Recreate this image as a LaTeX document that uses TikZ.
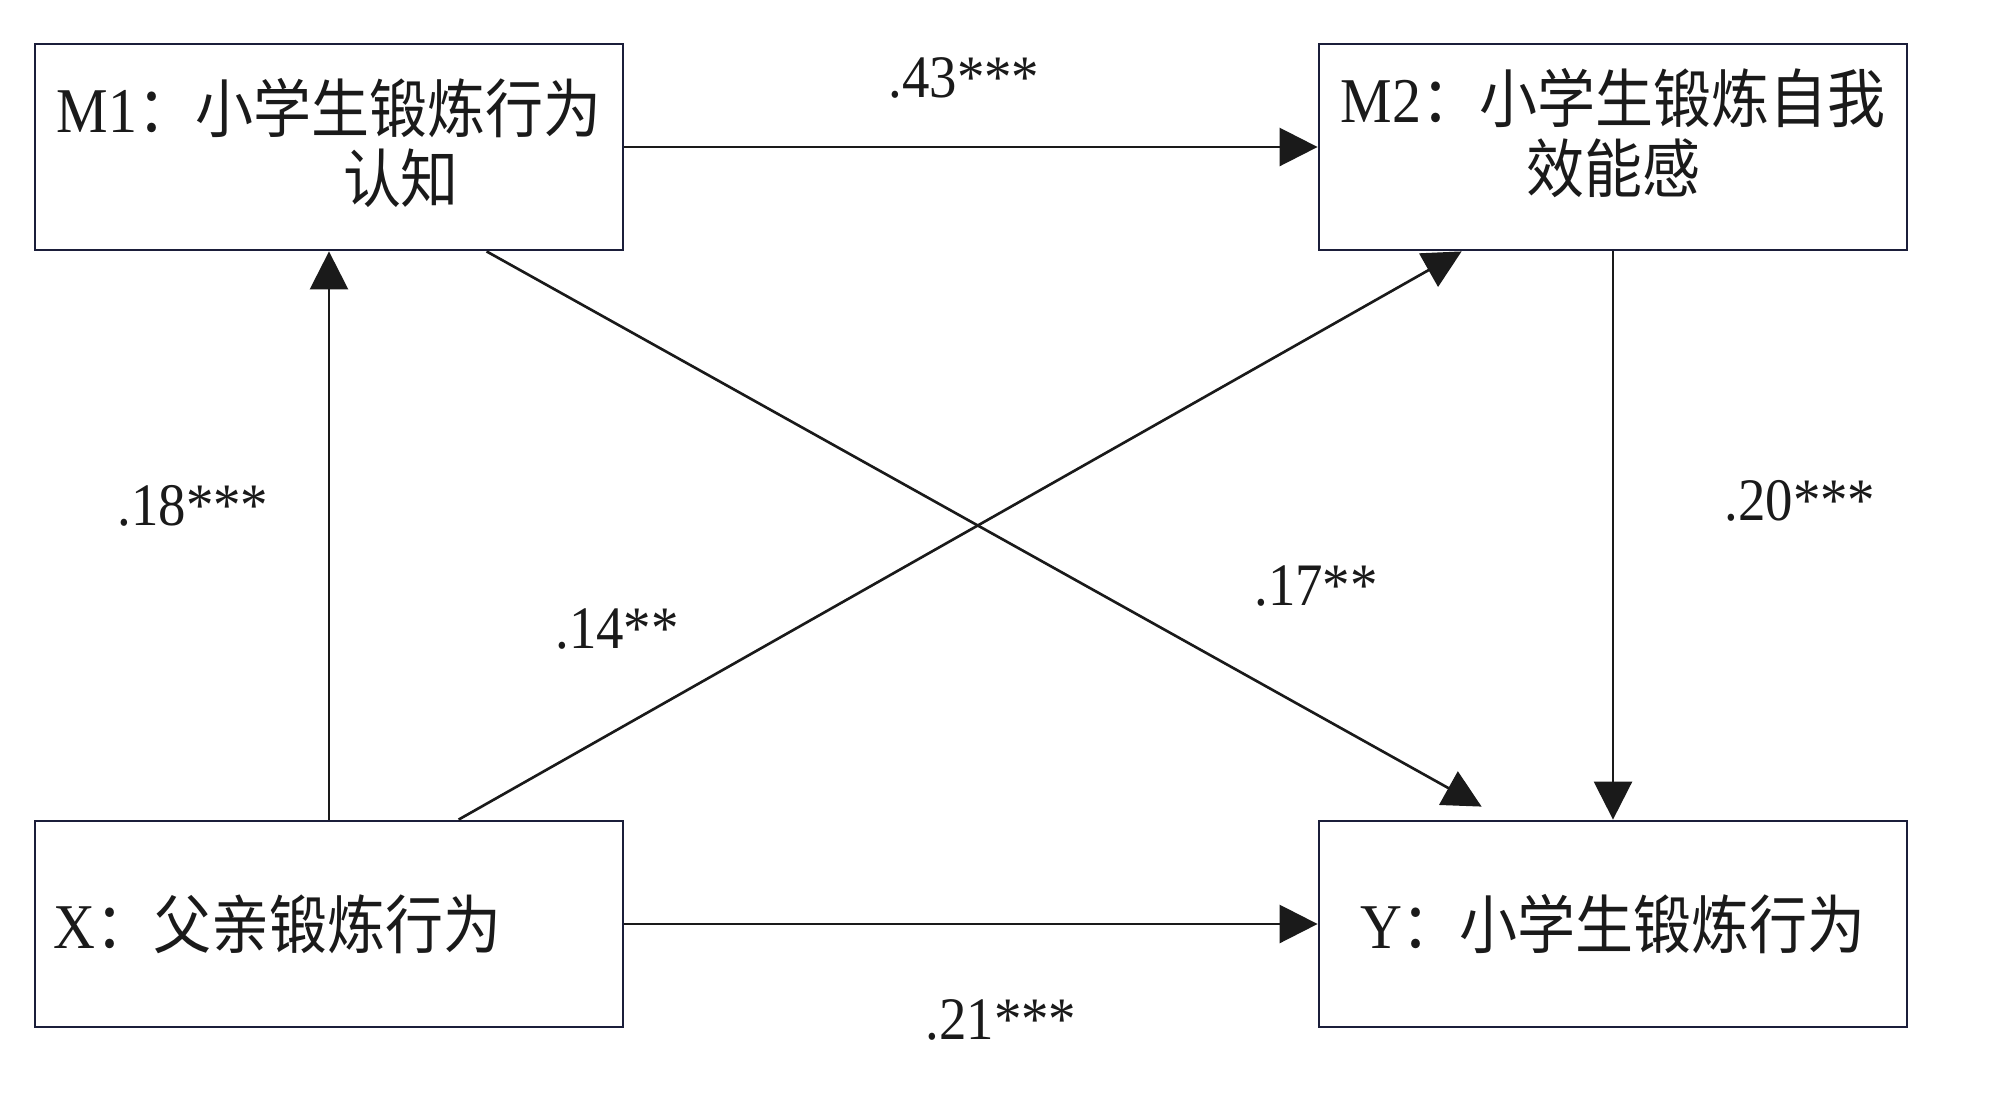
\documentclass[tikz,border=0pt]{standalone}
\usepackage{fontspec}
\usepackage{graphicx}
\setmainfont{Liberation Serif}
\newfontfamily\cjk{Noto Sans CJK SC}
\usetikzlibrary{arrows.meta}
\definecolor{boxline}{HTML}{1B1E3A}
\definecolor{ink}{HTML}{1A1A1A}
\newcommand\vst[1]{\scalebox{1}[1.1]{#1}}
\newcommand\upby[2]{\raisebox{#1}[\height][\depth]{#2}}
\begin{document}
\begin{tikzpicture}[
  box/.style={draw=boxline, line width=0.8pt, minimum width=5.88cm, minimum height=2.06cm,
              inner sep=0pt, text=ink, font=\fontsize{16.5}{20}\selectfont},
  conn/.style={draw=ink, line width=0.75pt, -{Triangle[length=3.8mm,width=3.8mm]}},
  coef/.style={font=\fontsize{15.6}{18}\selectfont, inner sep=0pt, text=ink}
]
\useasboundingbox (0,0) rectangle (20,-11.14);
\fill[white] (0,0) rectangle (20,-11.14);

\node[box, align=center] (M1) at (3.29,-1.47)
  {\upby{0.04cm}{\vst{M1\cjk：小学生锻炼行为}}\\\hspace*{1.44cm}\upby{0.04cm}{\vst{\cjk 认知}}};
\node[box, align=center] (M2) at (16.13,-1.47)
  {\upby{0.14cm}{\vst{M2\cjk：小学生锻炼自我}}\\\upby{0.14cm}{\vst{\cjk 效能感}}};
\node[box, text width=5.5cm, align=left] (X) at (3.29,-9.24)
  {\vst{X\cjk：父亲锻炼行为}};
\node[box, align=center] (Y) at (16.13,-9.24)
  {\vst{Y\cjk：小学生锻炼行为}};

\draw[conn] (M1.east) -- (M2.west);
\draw[conn] (X.north) -- (M1.south);
\draw[conn] (M2.south) -- (Y.north);
\draw[conn] (X.east) -- (Y.west);

\coordinate (a1) at ([xshift=4.25cm]X.north west);
\coordinate (a2) at ([xshift=1.44cm]M2.south west);
\draw[conn] (a1) -- (a2);

\coordinate (b1) at ([xshift=4.53cm]M1.south west);
\coordinate (b2) at ([xshift=1.64cm,yshift=0.13cm]Y.north west);
\draw[conn] (b1) -- (b2);

\node[coef] (l43) at (9.64,-0.78) {\vst{.43***}};
\node[coef] (l18) at (1.93,-5.06) {\vst{.18***}};
\node[coef] (l14) at (6.17,-6.29) {\vst{.14**}};
\node[coef] (l17) at (13.16,-5.86) {\vst{.17**}};
\node[coef] (l20) at (18.00,-5.01) {\vst{.20***}};
\node[coef] (l21) at (10.01,-10.20) {\vst{.21***}};
\end{tikzpicture}
\end{document}
